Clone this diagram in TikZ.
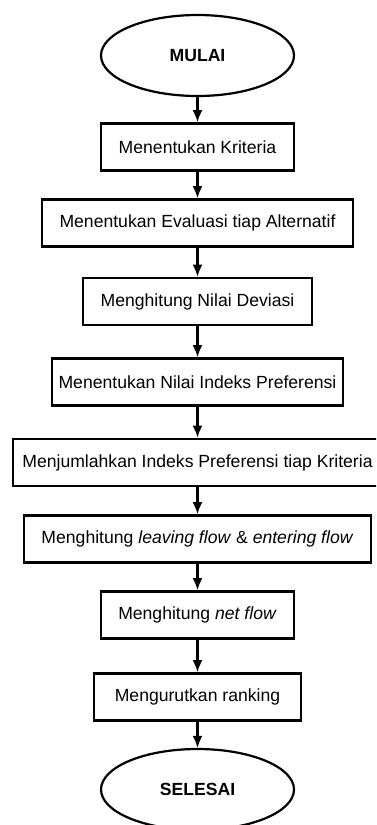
\documentclass[tikz,border=0pt]{standalone}
\usepackage{fontspec}
\setmainfont{Liberation Sans}
\usepackage{tikz}
\usetikzlibrary{shapes.geometric,arrows.meta}
\tikzset{
  prosesbox/.style={draw, line width=2.6pt, minimum height=47pt, inner sep=0pt,
    font=\fontsize{17.6}{21}\selectfont},
  terminal/.style={ellipse, draw, line width=2.2pt, minimum width=193pt,
    minimum height=81pt, inner sep=0pt, font=\fontsize{17.6}{21}\selectfont\bfseries},
  alur/.style={-{Latex[length=12pt,width=10pt]}, line width=2.2pt}
}
\begin{document}
\begin{tikzpicture}[x=1pt,y=-1pt]
\path[use as bounding box, clip] (0,0) rectangle (376,825);
 % start and end
 \node[terminal] (mulai) at (197.5,55.5) {MULAI};
 \node[terminal] (selesai) at (197.5,789.5) {SELESAI};
 % process steps
 \node[prosesbox, minimum width=193pt] (kriteria) at (197.5,147) {Menentukan Kriteria};
 \node[prosesbox, minimum width=311pt] (evaluasi) at (197.5,223) {Menentukan Evaluasi tiap Alternatif};
 \node[prosesbox, minimum width=229pt] (deviasi) at (197.5,301.5) {Menghitung Nilai Deviasi};
 \node[prosesbox, minimum width=291pt] (indeks) at (197.5,382) {Menentukan Nilai Indeks Preferensi};
 \node[prosesbox, minimum width=369pt] (jumlah) at (197.5,462.5) {Menjumlahkan Indeks Preferensi tiap Kriteria};
 \node[prosesbox, minimum width=347pt] (flow) at (197.5,539) {Menghitung \textit{leaving flow} \& \textit{entering flow}};
 \node[prosesbox, minimum width=193pt] (netflow) at (197.5,615) {Menghitung \textit{net flow}};
 \node[prosesbox, minimum width=207pt] (ranking) at (197.5,697) {Mengurutkan ranking};

 \draw[alur] (mulai) -- (kriteria);
 \draw[alur] (kriteria) -- (evaluasi);
 \draw[alur] (evaluasi) -- (deviasi);
 \draw[alur] (deviasi) -- (indeks);
 \draw[alur] (indeks) -- (jumlah);
 \draw[alur] (jumlah) -- (flow);
 \draw[alur] (flow) -- (netflow);
 \draw[alur] (netflow) -- (ranking);
 \draw[alur] (ranking) -- (selesai);
\end{tikzpicture}
\end{document}
